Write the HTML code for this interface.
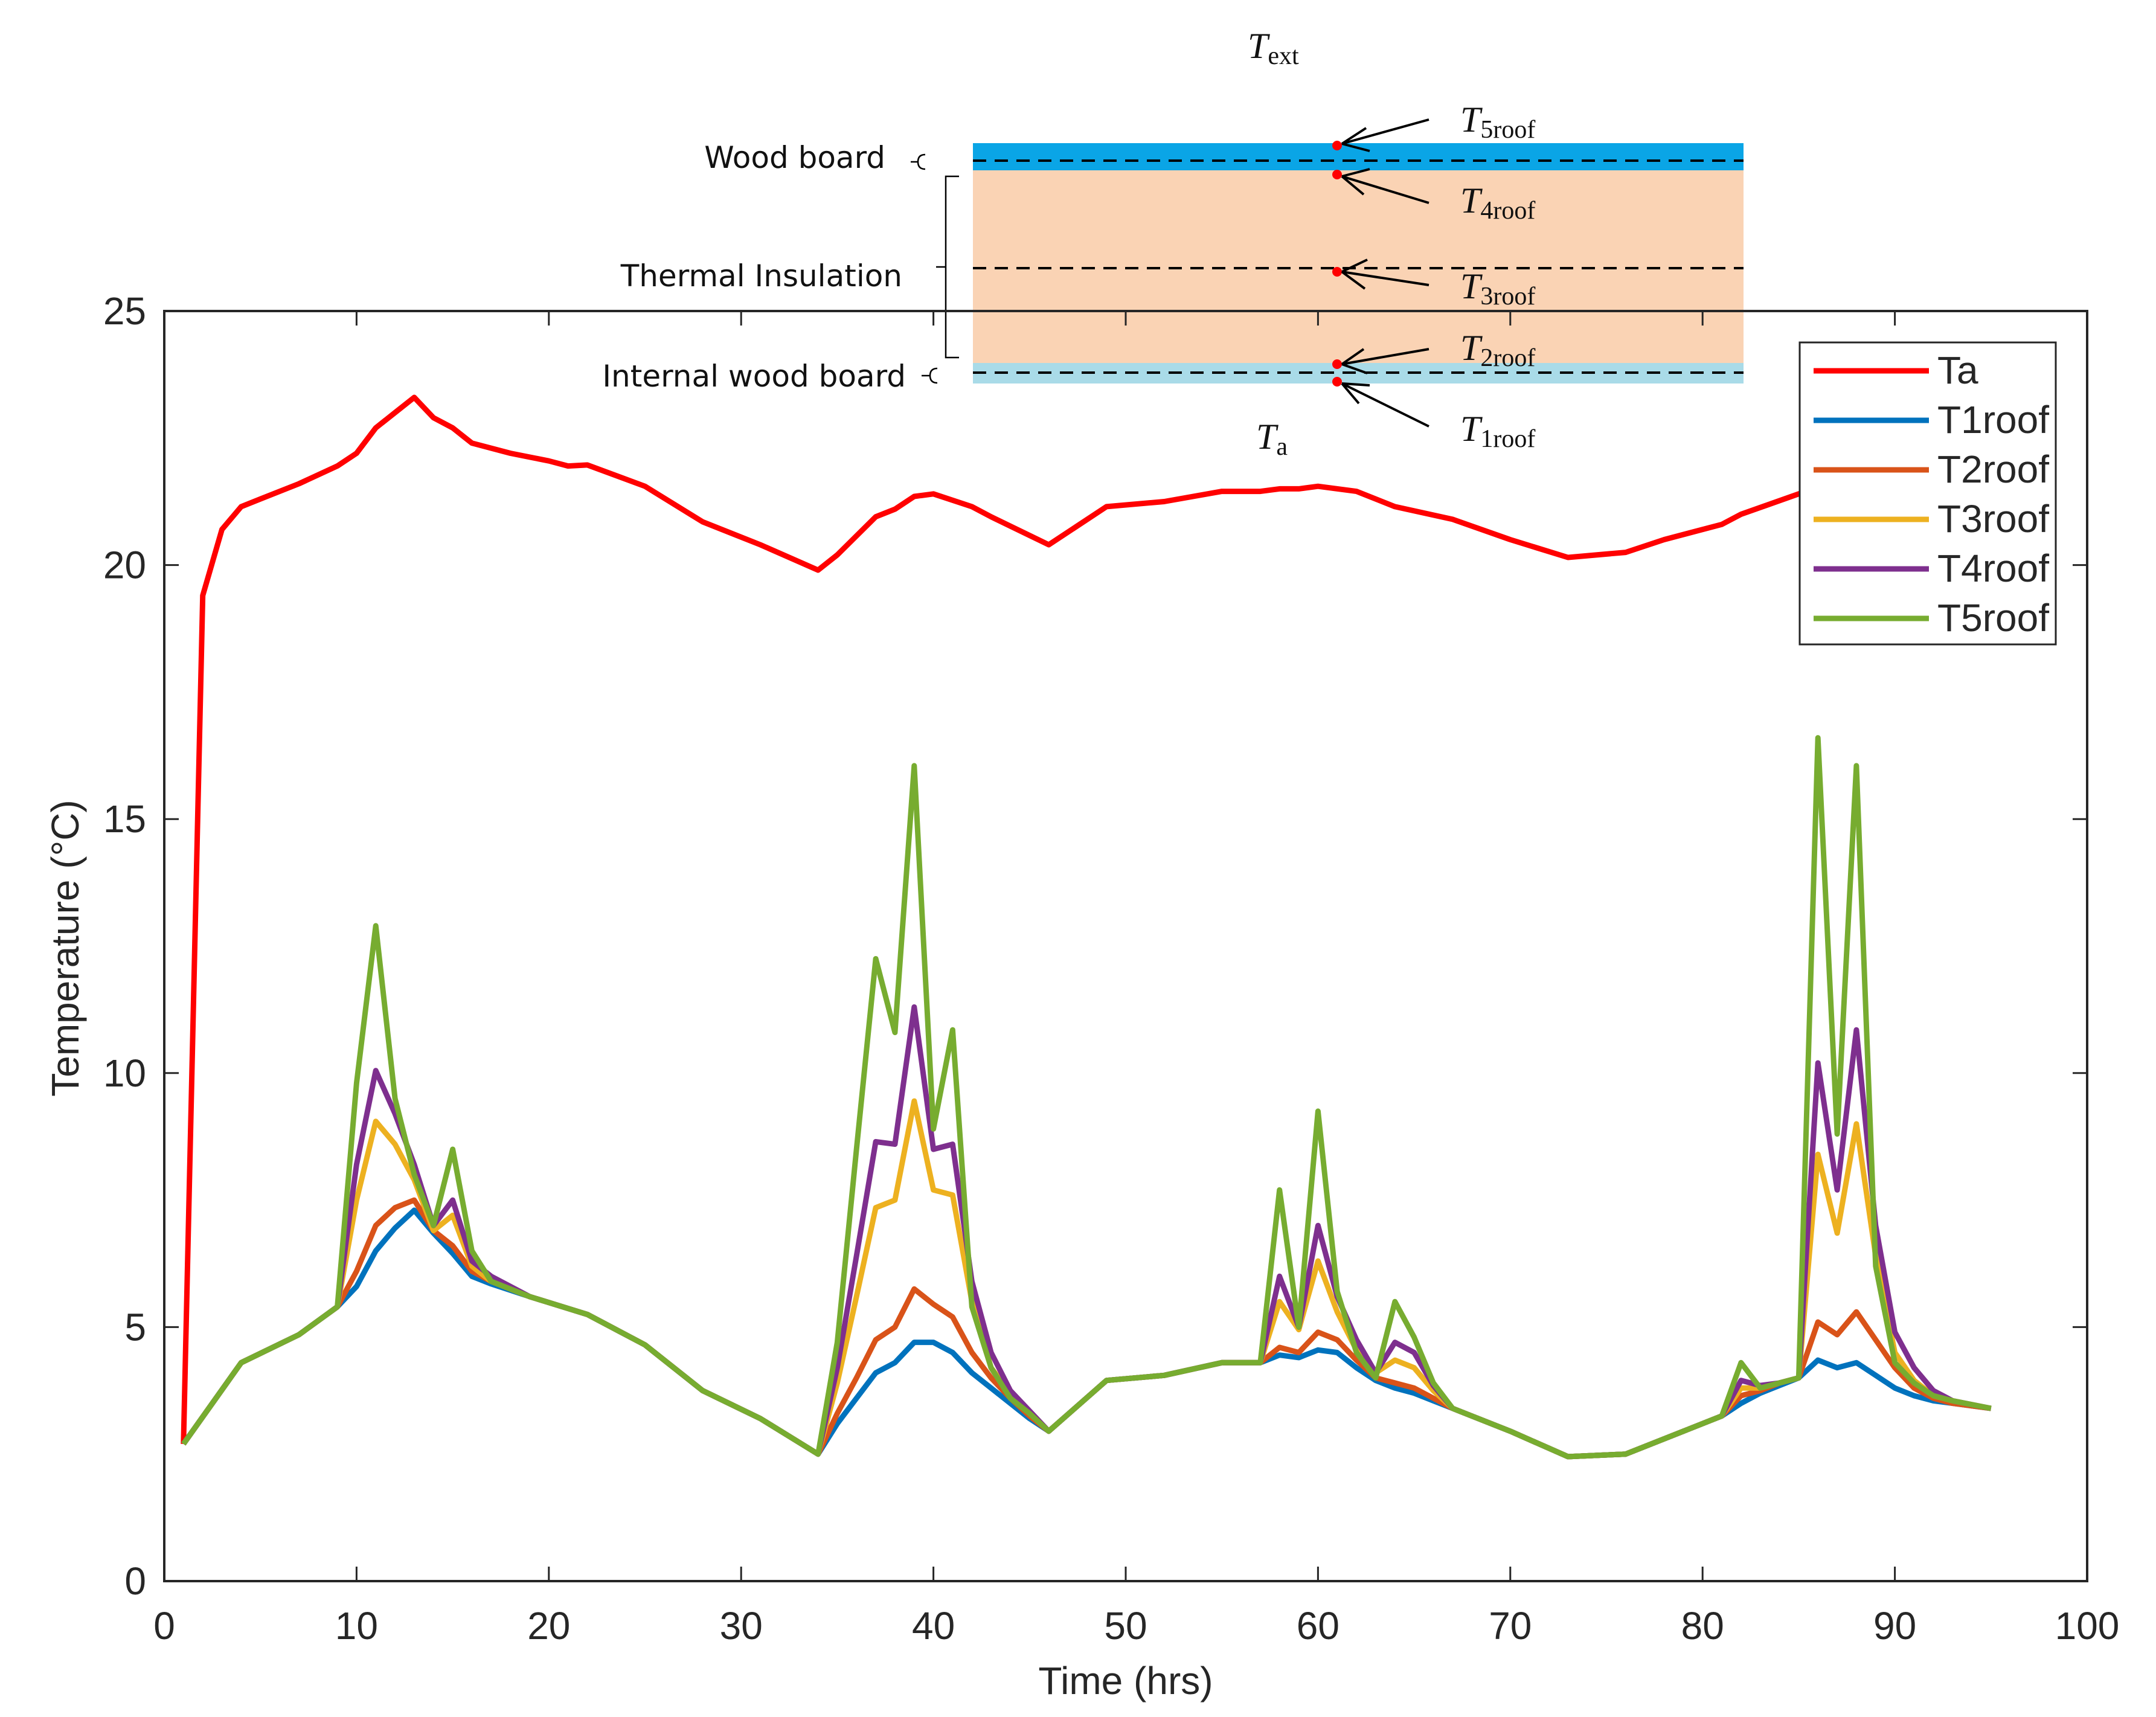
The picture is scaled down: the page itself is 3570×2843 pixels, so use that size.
<!DOCTYPE html>
<html><head><meta charset="utf-8"><style>
html,body{margin:0;padding:0;background:#fff}
svg{display:block}
text{font-family:"Liberation Sans",sans-serif}
.t{font-size:64px;fill:#262626}
.d{font-size:50px;fill:#111;font-family:"DejaVu Sans","Liberation Sans",sans-serif}
.m{font-size:60px;fill:#111;font-family:"Liberation Serif",serif;font-style:italic}
.s{font-size:42px;font-style:normal}
</style></head><body>
<svg id="chart" width="3570" height="2843" viewBox="0 0 3570 2843" xmlns="http://www.w3.org/2000/svg">
<g id="diagram">
  <rect x="1611" y="237" width="1276" height="45" fill="#0aa5e6"/>
  <rect x="1611" y="282" width="1276" height="319" fill="#fad3b4"/>
  <rect x="1611" y="601" width="1276" height="34" fill="#a9dbe8"/>
  <g stroke="#000" stroke-width="4" stroke-dasharray="22,14" fill="none">
    <line x1="1611" y1="266" x2="2887" y2="266"/>
    <line x1="1611" y1="444" x2="2887" y2="444"/>
    <line x1="1611" y1="617" x2="2887" y2="617"/>
  </g>
  <g fill="#f00">
    <circle cx="2214" cy="241" r="8"/>
    <circle cx="2214" cy="289" r="8"/>
    <circle cx="2214" cy="450" r="8"/>
    <circle cx="2214" cy="603" r="8"/>
    <circle cx="2214" cy="632" r="8"/>
  </g>
  <g stroke="#000" stroke-width="4" fill="none">
    <path d="M2366 198 L2222 238 M2222 238 L2262 212 M2222 238 L2268 250"/>
    <path d="M2366 336 L2222 292 M2222 292 L2268 280 M2222 292 L2258 322"/>
    <path d="M2366 472 L2222 450 M2222 450 L2264 430 M2222 450 L2260 478"/>
    <path d="M2366 578 L2222 603 M2222 603 L2258 578 M2222 603 L2264 618"/>
    <path d="M2366 706 L2222 635 M2222 635 L2250 668 M2222 635 L2268 638"/>
  </g>
  <text class="m" x="2066" y="96">T<tspan class="s" dy="10">ext</tspan></text>
  <text class="m" x="2080" y="743">T<tspan class="s" dy="10">a</tspan></text>
  <text class="m" x="2418" y="218">T<tspan class="s" dy="10">5roof</tspan></text>
  <text class="m" x="2418" y="352">T<tspan class="s" dy="10">4roof</tspan></text>
  <text class="m" x="2418" y="494">T<tspan class="s" dy="10">3roof</tspan></text>
  <text class="m" x="2418" y="596">T<tspan class="s" dy="10">2roof</tspan></text>
  <text class="m" x="2418" y="730">T<tspan class="s" dy="10">1roof</tspan></text>
  <text class="d" x="1466" y="278" text-anchor="end">Wood board</text>
  <text class="d" x="1494" y="474" text-anchor="end">Thermal Insulation</text>
  <text class="d" x="1500" y="640" text-anchor="end">Internal wood board</text>
  <g stroke="#000" stroke-width="2.5" fill="none">
    <path d="M1508 268 L1520 268 M1532 256 Q1520 256 1520 268 Q1520 280 1532 280"/>
    <path d="M1588 292 L1566 292 L1566 592 L1588 592 M1566 442 L1550 442"/>
    <path d="M1526 622 L1540 622 M1552 610 Q1540 610 1540 622 Q1540 634 1552 634"/>
  </g>
</g>
<g id="plot"></g>
</svg>
<script>
const hours=[1,4,7,9,10,11,12,13,14,15,16,17,19,22,25,28,31,34,35,36,37,38,39,40,41,42,43,44,45,46,49,52,55,57,58,59,60,61,62,63,64,65,66,67,70,73,76,79,81,82,83,84,85,86,87,88,89,90,91,92,93,95];
const t1roof=[2.7,4.3,4.85,5.4,5.8,6.5,6.95,7.3,6.85,6.45,6.0,5.85,5.6,5.25,4.65,3.75,3.2,2.5,3.1,3.6,4.1,4.3,4.7,4.7,4.5,4.1,3.8,3.5,3.2,2.95,3.95,4.05,4.3,4.3,4.45,4.4,4.55,4.5,4.2,3.95,3.8,3.7,3.55,3.4,2.95,2.45,2.5,2.95,3.25,3.5,3.7,3.85,4.0,4.35,4.2,4.3,4.05,3.8,3.65,3.55,3.5,3.4];
const t2roof=[2.7,4.3,4.85,5.4,6.1,7.0,7.35,7.5,6.9,6.6,6.1,5.9,5.6,5.25,4.65,3.75,3.2,2.5,3.3,4.0,4.75,5.0,5.75,5.45,5.2,4.5,4.0,3.6,3.25,2.95,3.95,4.05,4.3,4.3,4.6,4.5,4.9,4.75,4.35,4.0,3.9,3.8,3.6,3.4,2.95,2.45,2.5,2.95,3.25,3.65,3.75,3.9,4.0,5.1,4.85,5.3,4.75,4.2,3.8,3.6,3.5,3.4];
const t3roof=[2.7,4.3,4.85,5.4,7.5,9.05,8.6,7.9,6.9,7.2,6.2,5.9,5.6,5.25,4.65,3.75,3.2,2.5,3.9,5.6,7.35,7.5,9.45,7.7,7.6,5.5,4.2,3.7,3.3,2.95,3.95,4.05,4.3,4.3,5.5,4.95,6.3,5.3,4.55,4.1,4.35,4.2,3.75,3.4,2.95,2.45,2.5,2.95,3.25,3.8,3.8,3.9,4.0,8.4,6.85,9.0,6.4,4.5,3.95,3.65,3.55,3.4];
const t4roof=[2.7,4.3,4.85,5.4,8.2,10.05,9.2,8.2,7.0,7.5,6.3,6.0,5.6,5.25,4.65,3.75,3.2,2.5,4.2,6.4,8.65,8.6,11.3,8.5,8.6,5.9,4.5,3.75,3.35,2.95,3.95,4.05,4.3,4.3,6.0,5.0,7.0,5.6,4.75,4.1,4.7,4.5,3.85,3.4,2.95,2.45,2.5,2.95,3.25,3.95,3.85,3.9,4.0,10.2,7.7,10.85,7.0,4.9,4.2,3.75,3.55,3.4];
const t5roof=[2.7,4.3,4.85,5.4,9.8,12.9,9.5,8.0,7.0,8.5,6.5,5.9,5.6,5.25,4.65,3.75,3.2,2.5,4.7,8.5,12.25,10.8,16.05,8.9,10.85,5.4,4.2,3.6,3.3,2.95,3.95,4.05,4.3,4.3,7.7,5.0,9.25,5.7,4.5,4.0,5.5,4.8,3.9,3.4,2.95,2.45,2.5,2.95,3.25,4.3,3.8,3.9,4.0,16.6,8.8,16.05,6.2,4.3,3.9,3.65,3.55,3.4];
const taHours=[1,2,3,4,5,7,9,10,11,12,13,14,15,16,18,20,21,22,25,28,31,34,35,37,38,39,40,42,43,46,49,52,55,57,58,59,60,62,64,67,70,73,76,78,81,82,85,87,90,93,95];
const taValues=[2.7,19.4,20.7,21.15,21.3,21.6,21.95,22.2,22.7,23.0,23.3,22.9,22.7,22.4,22.2,22.05,21.95,21.97,21.55,20.85,20.4,19.9,20.2,20.95,21.1,21.35,21.4,21.15,20.95,20.4,21.15,21.25,21.45,21.45,21.5,21.5,21.55,21.45,21.15,20.9,20.5,20.15,20.25,20.5,20.8,21.0,21.4,21.7,22.0,22.1,22.2];
const xTicks=[0,10,20,30,40,50,60,70,80,90,100];
const yTicks=[0,5,10,15,20,25];
const legendLabels=["Ta","T1roof","T2roof","T3roof","T4roof","T5roof"];

const NS="http://www.w3.org/2000/svg";
const L=272,R=3456,T=515,B=2618;
const sx=v=>L+(v-0)/(100-0)*(R-L);
const sy=v=>B-(v-0)/(25-0)*(B-T);
const g=document.getElementById('plot');
function mk(tag,attrs,parent){const e=document.createElementNS(NS,tag);for(const k in attrs)e.setAttribute(k,attrs[k]);(parent||g).appendChild(e);return e;}

const box=mk('rect',{x:L,y:T,width:R-L,height:B-T,fill:'none',stroke:'#262626','stroke-width':4});



xTicks.forEach(v=>{
  const x=sx(v);
  const tk=mk('path',{d:`M${x} ${B} V${B-24} M${x} ${T} V${T+24}`,stroke:'#262626','stroke-width':3});
  
  
  const tl=mk('text',{x:x,y:B+96,'text-anchor':'middle',class:'t'});
  tl.textContent=v;
  
  
});
yTicks.forEach(v=>{
  const y=sy(v);
  const tk=mk('path',{d:`M${L} ${y} H${L+24} M${R} ${y} H${R-24}`,stroke:'#262626','stroke-width':3});
  
  
  const tl=mk('text',{x:L-30,y:y+22,'text-anchor':'end',class:'t'});
  tl.textContent=v;
  
  
});
const xt=mk('text',{x:1864,y:2805,'text-anchor':'middle',class:'t','font-size':72});
xt.textContent='Time (hrs)';


const yt=mk('text',{x:0,y:0,'text-anchor':'middle',class:'t','font-size':72,transform:'translate(130,1570) rotate(-90)'});
yt.textContent='Temperature (°C)';



const colors=['#ff0000','#0072bd','#d95319','#edb120','#7e2f8e','#77ac30'];
const series=[[taHours,taValues],[hours,t1roof],[hours,t2roof],[hours,t3roof],[hours,t4roof],[hours,t5roof]];
series.forEach((s,i)=>{
  const d=s[0].map((h,j)=>(j?'L':'M')+sx(h).toFixed(1)+' '+sy(s[1][j]).toFixed(1)).join(' ');
  const p=mk('path',{d:d,fill:'none',stroke:colors[i],'stroke-width':9,'stroke-linejoin':'round'});
  
  
});

const lg=mk('g',{});


const lb=mk('rect',{x:2980,y:567,width:424,height:500,fill:'#fff',stroke:'#262626','stroke-width':3},lg);


legendLabels.forEach((lab,i)=>{
  const y=614+i*82;
  const ln=mk('line',{x1:3003,y1:y,x2:3194,y2:y,stroke:colors[i],'stroke-width':9},lg);
  
  
  const tx=mk('text',{x:3208,y:y+21,class:'t','font-size':58,fill:'#000'},lg);
  tx.textContent=lab;
  
  
});
</script>
</body></html>
